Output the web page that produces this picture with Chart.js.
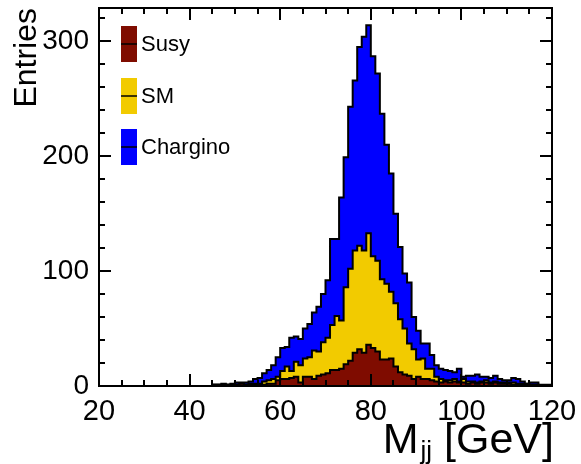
<!DOCTYPE html>
<html>
<head>
<meta charset="utf-8">
<script src="https://cdn.jsdelivr.net/npm/chart.js@4.4.0/dist/chart.umd.min.js"></script>
<style>
  html, body { margin: 0; padding: 0; background: #fff; }
</style>
</head>
<body>
<canvas id="mjj" width="581" height="464"></canvas>
<script>
// histogram: 100 bins of 1 GeV from 20 to 120 GeV
var binLow = 20, binWidth = 1;

var susy = [
    0, 0, 0, 0, 0, 0, 0, 0, 0, 0,          // 20-29
    0, 0, 0, 0, 0, 0, 0, 0, 0, 0,          // 30-39
    0, 0, 0, 0, 0, 1, 1, 1, 1, 1,          // 40-49
    1, 2, 1, 1, 1, 1, 1, 2, 2, 5,          // 50-59
    6, 6, 7, 8, 3, 8, 8, 6, 9, 10,         // 60-69
    11, 14, 14, 15, 19, 22, 29, 32, 29, 36, // 70-79
    33, 30, 23, 23, 24, 17, 12, 10, 9, 6,  // 80-89
    8, 6, 6, 5, 4, 3, 4, 3, 4, 3,          // 90-99
    3, 2, 3, 2, 3, 3, 2, 3, 2, 2,          // 100-109
    2, 1, 1, 1, 1, 1, 1, 0, 0, 0           // 110-119
];
var sm = [
    0, 0, 0, 0, 0, 0, 0, 0, 0, 0,
    0, 0, 0, 0, 0, 0, 0, 0, 0, 0,
    0, 0, 0, 0, 0, 0, 0, 0, 0, 0,
    0, 0, 0, 1, 1, 1, 3, 3, 4, 3,
    7, 11, 6, 13, 15, 16, 17, 25, 21, 28,
    31, 39, 47, 42, 67, 80, 89, 90, 89, 97,
    80, 79, 70, 66, 58, 55, 46, 40, 28, 26,
    15, 18, 9, 10, 4, 3, 1, 2, 2, 1,
    3, 2, 1, 1, 1, 2, 1, 1, 1, 1,
    1, 2, 1, 1, 1, 0, 0, 0, 0, 0
];
var chargino = [
    0, 0, 0, 0, 0, 0, 0, 0, 0, 0,
    0, 0, 0, 0, 0, 0, 0, 0, 0, 0,
    0, 0, 0, 0, 0, 0, 0, 1, 0, 1,
    2, 1, 2, 2, 4, 5, 7, 9, 12, 17,
    20, 17, 29, 22, 23, 26, 29, 33, 39, 42,
    50, 75, 67, 107, 113, 141, 148, 173, 186, 181,
    174, 163, 144, 121, 103, 78, 63, 48, 53, 28,
    25, 13, 22, 12, 10, 9, 9, 8, 6, 11,
    2, 5, 5, 7, 4, 3, 4, 5, 3, 2,
    2, 4, 4, 2, 0, 2, 2, 1, 1, 1
];

var seriesNames = ['Susy', 'SM', 'Chargino'];
var seriesColors = ['#7f0c00', '#f2cb00', '#0000ff'];

var xMin = 20, xMax = 120, xLabelStep = 20, xMinorStep = 5;
var yMin = 0, yMax = 329, yLabelStep = 100, yMinorStep = 20;

var FONT = "'Liberation Sans', Arial, Helvetica, sans-serif";

// stack the histograms (Susy at bottom, then SM, then Chargino)
function addArrays(a, b) {
    var out = [];
    for (var i = 0; i < a.length; i++) out.push(a[i] + b[i]);
    return out;
}
var topSusy = susy.slice();
var topSm = addArrays(topSusy, sm);
var topAll = addArrays(topSm, chargino);

// turn bin contents into a step outline, ROOT style
function stepPoints(tops) {
    var pts = [{ x: binLow, y: 0 }];
    for (var i = 0; i < tops.length; i++) {
        var lo = binLow + i * binWidth;
        pts.push({ x: lo, y: tops[i] });
        pts.push({ x: lo + binWidth, y: tops[i] });
    }
    pts.push({ x: binLow + tops.length * binWidth, y: 0 });
    return pts;
}

function histDataset(i, tops) {
    return {
        label: seriesNames[i],
        data: stepPoints(tops),
        backgroundColor: seriesColors[i],
        borderColor: '#000',
        borderWidth: 2,
        pointRadius: 0,
        tension: 0,
        fill: 'origin'
    };
}

// frame, inward ticks on all four sides, axis titles and legend
var rootFrame = {
    id: 'rootFrame',
    afterDraw: function (chart) {
        var ctx = chart.ctx, a = chart.chartArea;
        var xs = chart.scales.x, ys = chart.scales.y;
        var v, p, len;
        ctx.save();
        ctx.strokeStyle = '#000';
        ctx.lineWidth = 2;
        ctx.strokeRect(a.left, a.top, a.right - a.left, a.bottom - a.top);

        ctx.beginPath();
        for (v = xMin; v <= xMax; v += xMinorStep) {
            p = Math.round(xs.getPixelForValue(v));
            len = (v % xLabelStep === 0) ? 12 : 6;
            ctx.moveTo(p, a.bottom); ctx.lineTo(p, a.bottom - len);
            ctx.moveTo(p, a.top); ctx.lineTo(p, a.top + len);
        }
        for (v = yMin; v <= yMax; v += yMinorStep) {
            p = Math.round(ys.getPixelForValue(v));
            len = (v % yLabelStep === 0) ? 12 : 6;
            ctx.moveTo(a.left, p); ctx.lineTo(a.left + len, p);
            ctx.moveTo(a.right, p); ctx.lineTo(a.right - len, p);
        }
        ctx.stroke();

        // y title
        ctx.fillStyle = '#000';
        ctx.save();
        ctx.translate(36, a.top);
        ctx.rotate(-Math.PI / 2);
        ctx.font = '32px ' + FONT;
        ctx.textAlign = 'right';
        ctx.textBaseline = 'alphabetic';
        ctx.fillText('Entries', 0, 0);
        ctx.restore();

        // x title with subscript
        var base = 453, right = a.right + 2;
        ctx.textBaseline = 'alphabetic';
        ctx.textAlign = 'left';
        ctx.font = '43px ' + FONT;
        var wUnit = ctx.measureText(' [GeV]').width;
        var wM = ctx.measureText('M').width;
        ctx.font = '26px ' + FONT;
        var wSub = ctx.measureText('jj').width;
        var x0 = right - wUnit - wSub - wM - 2;
        ctx.font = '43px ' + FONT;
        ctx.fillText('M', x0, base);
        ctx.fillText(' [GeV]', x0 + wM + wSub + 2, base);
        ctx.font = '26px ' + FONT;
        ctx.fillText('jj', x0 + wM + 2, base + 6);

        // legend
        var boxX = 121, boxW = 16, boxH = 36, rowY = [26, 78, 129];
        ctx.font = '22px ' + FONT;
        ctx.textBaseline = 'middle';
        for (var i = 0; i < seriesNames.length; i++) {
            ctx.fillStyle = seriesColors[i];
            ctx.fillRect(boxX, rowY[i], boxW, boxH);
            ctx.beginPath();
            ctx.lineWidth = 1.5;
            ctx.moveTo(boxX, rowY[i] + boxH / 2);
            ctx.lineTo(boxX + boxW, rowY[i] + boxH / 2);
            ctx.stroke();
            ctx.fillStyle = '#000';
            ctx.fillText(seriesNames[i], boxX + 20, rowY[i] + boxH / 2 + 1);
        }
        ctx.restore();
    }
};

Chart.defaults.font.family = FONT;
Chart.defaults.color = '#000';

var chart = new Chart(document.getElementById('mjj').getContext('2d'), {
    type: 'line',
    data: {
        datasets: [
            histDataset(0, topSusy),
            histDataset(1, topSm),
            histDataset(2, topAll)
        ]
    },
    options: {
        responsive: false,
        animation: false,
        devicePixelRatio: 1,
        layout: { padding: { top: 8, right: 29, left: 0, bottom: 0 } },
        plugins: {
            legend: { display: false },
            tooltip: { enabled: false }
        },
        scales: {
            x: {
                type: 'linear',
                min: xMin,
                max: xMax,
                grid: { display: false, drawTicks: false },
                border: { display: false },
                ticks: {
                    stepSize: xLabelStep,
                    autoSkip: false,
                    maxRotation: 0,
                    padding: 9,
                    font: { size: 29 }
                },
                afterFit: function (s) {
                    s.height = 78;
                    s.paddingLeft = 0;
                    s.paddingRight = 0;
                }
            },
            y: {
                min: yMin,
                max: yMax,
                grid: { display: false, drawTicks: false },
                border: { display: false },
                ticks: {
                    stepSize: yLabelStep,
                    includeBounds: false,
                    padding: 10,
                    font: { size: 28 }
                },
                afterFit: function (s) {
                    s.width = 99;
                    s.paddingTop = 0;
                    s.paddingBottom = 0;
                }
            }
        }
    },
    plugins: [rootFrame]
});
</script>
</body>
</html>
